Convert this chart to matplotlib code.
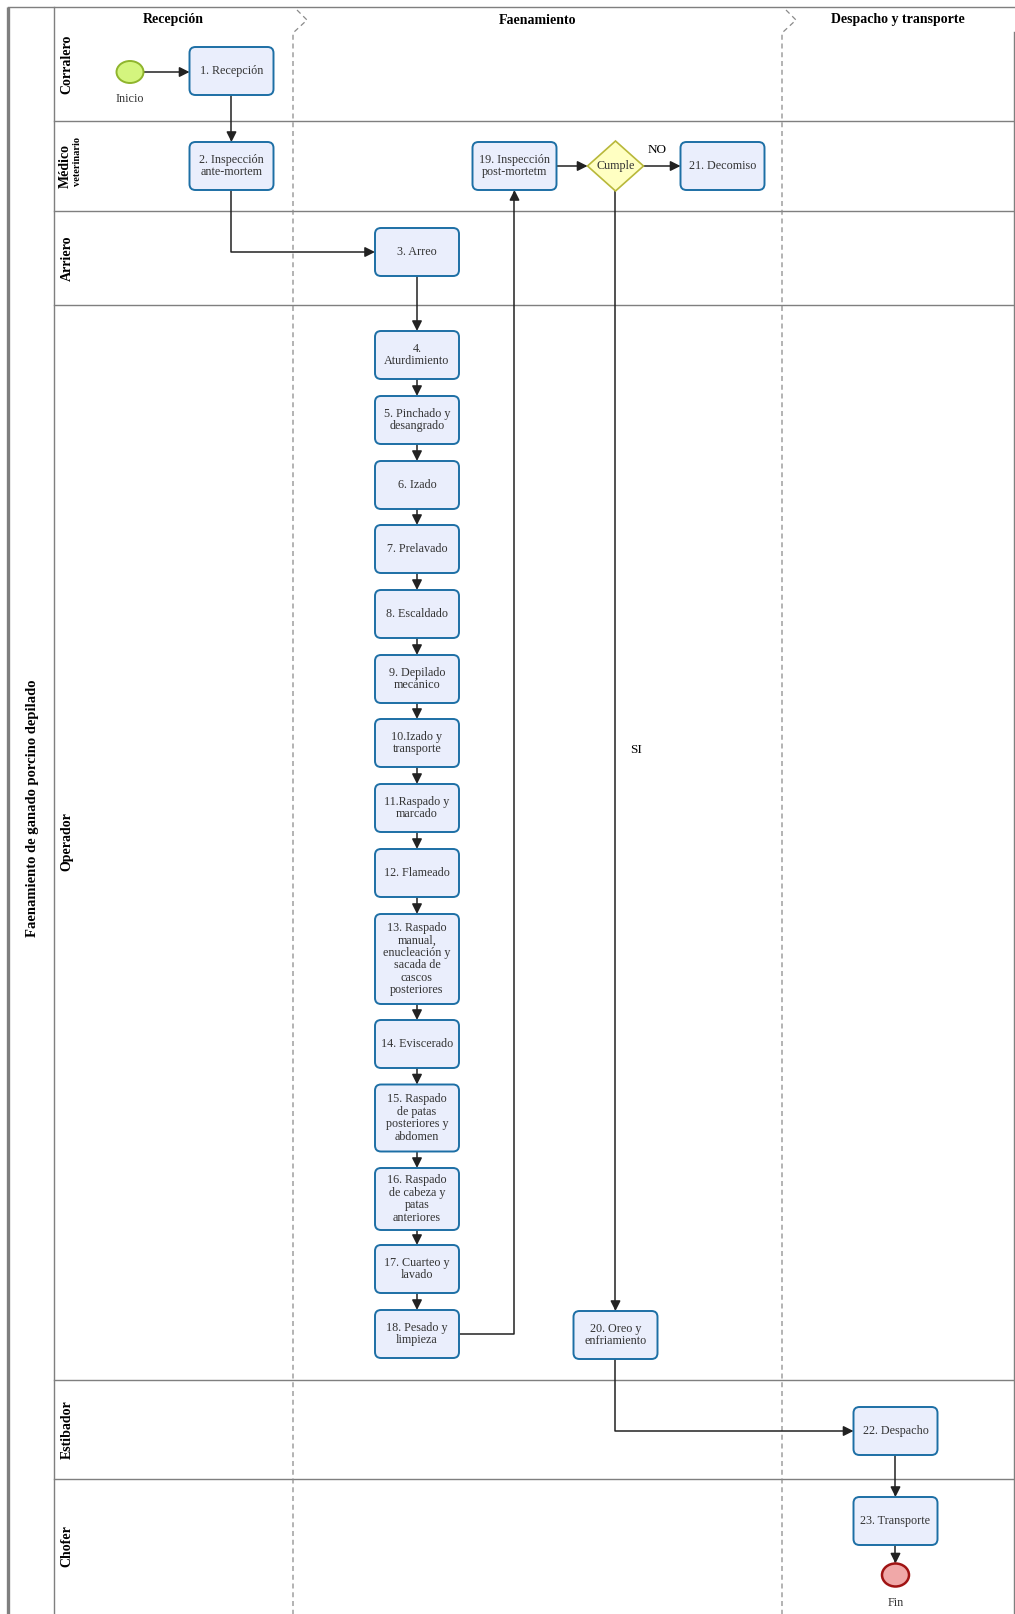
import matplotlib
matplotlib.use("Agg")
from matplotlib import pyplot as plt
from matplotlib.patches import FancyBboxPatch, Ellipse, Polygon, FancyArrowPatch
from matplotlib.path import Path

plt.rcParams['font.family'] = ['Liberation Serif', 'DejaVu Serif']

# --- data ---
pool_title = "Faenamiento de ganado porcino depilado"
phases = ["Recepción", "Faenamiento", "Despacho y transporte"]
lanes = ["Corralero", "Médico", "Arriero", "Operador", "Estibador", "Chofer"]

step_labels = [
    "1. Recepción", "2. Inspección\nante-mortem", "3. Arreo", "4.\nAturdimiento",
    "5. Pinchado y\ndesangrado", "6. Izado", "7. Prelavado", "8. Escaldado",
    "9. Depilado\nmecánico", "10.Izado y\ntransporte", "11.Raspado y\nmarcado",
    "12. Flameado",
    "13. Raspado\nmanual,\nenucleación y\nsacada de\ncascos\nposteriores",
    "14. Eviscerado", "15. Raspado\nde patas\nposteriores y\nabdomen",
    "16. Raspado\nde cabeza y\npatas\nanteriores", "17. Cuarteo y\nlavado",
    "18. Pesado y\nlimpieza", "19. Inspección\npost-mortetm",
    "20. Oreo y\nenfriamiento", "21. Decomiso", "22. Despacho", "23. Transporte",
]
gateway_label = "Cumple"
start_label, end_label = "Inicio", "Fin"
yes_label, no_label = "SI", "NO"

# --- layout (pixels, y down) ---
W, H = 1015, 1614
lane_y = [7, 121, 211, 305, 1380, 1479, 1614]
phase_x = [54, 293, 782, 1014]
BW, BH = 84, 48
col_a, col_b, col_c, col_d, col_e, col_f = 231.5, 417, 514.5, 615.5, 722.5, 895.5

pos = {
    1: (col_a, 71), 2: (col_a, 166), 3: (col_b, 252),
    4: (col_b, 355), 5: (col_b, 420), 6: (col_b, 485), 7: (col_b, 549),
    8: (col_b, 614), 9: (col_b, 679), 10: (col_b, 743), 11: (col_b, 808),
    12: (col_b, 873), 13: (col_b, 959), 14: (col_b, 1044), 15: (col_b, 1118),
    16: (col_b, 1199), 17: (col_b, 1269), 18: (col_b, 1334),
    19: (col_c, 166), 20: (col_d, 1335), 21: (col_e, 166),
    22: (col_f, 1431), 23: (col_f, 1521),
}
heights = {13: 90, 15: 67, 16: 62}

fig = plt.figure(figsize=(W / 100, H / 100), dpi=100)
ax = fig.add_axes([0, 0, 1, 1])
ax.set_xlim(0, W)
ax.set_ylim(H, 0)
ax.axis("off")

line_c = "#7f7f7f"
# pool frame
ax.plot([8, 8], [7, H], color=line_c, lw=2.4, solid_capstyle="butt")
ax.plot([8, W], [7, 7], color=line_c, lw=1.0)
ax.plot([54, 54], [7, H], color=line_c, lw=1.0)
ax.plot([1014, 1014], [32, H], color=line_c, lw=1.0)
for y in lane_y[1:-1]:
    ax.plot([54, 1014], [y, y], color=line_c, lw=1.0)

# phase separators with chevron at top
for x in phase_x[1:3]:
    ax.plot([x + 4, x + 14, x, x], [10, 20, 33, H], color="#8a8a8a",
            lw=0.9, ls=(0, (4, 3)))
for i, name in enumerate(phases):
    ax.text((phase_x[i] + phase_x[i + 1]) / 2, 20, name,
            ha="center", va="center", fontsize=10, fontweight="bold")

ax.text(33, 808, pool_title, rotation=90, ha="center", va="center",
        fontsize=10.5, fontweight="bold")

# lane labels
for i, name in enumerate(lanes):
    cy = (lane_y[i] + lane_y[i + 1]) / 2
    if i == 3:
        cy = 842
    if name == "Médico":
        ax.text(65, 166, name, rotation=90, ha="center", va="center",
                fontsize=10, fontweight="bold")
        ax.text(78, 162, "veterinario", rotation=90, ha="center", va="center",
                fontsize=7.5, fontweight="bold")
    else:
        ax.text(67, cy, name, rotation=90, ha="center", va="center",
                fontsize=10, fontweight="bold")

# tasks
for n, label in enumerate(step_labels, start=1):
    cx, cy = pos[n]
    h = heights.get(n, BH)
    ax.add_patch(FancyBboxPatch((cx - BW / 2, cy - h / 2), BW, h,
                                boxstyle="round,pad=0,rounding_size=6",
                                fc="#eaeefc", ec="#1d6fa5", lw=1.4, zorder=3))
    ax.text(cx, cy, label, ha="center", va="center", fontsize=8.7,
            color="#333333", linespacing=1.05, zorder=4)

# gateway
gx, gy = col_d, 166
ax.add_patch(Polygon([[gx - 28, gy], [gx, gy - 25], [gx + 28, gy], [gx, gy + 25]],
                     closed=True, fc="#ffffc2", ec="#b8b83a", lw=1.2, zorder=3))
ax.text(gx, gy, gateway_label, ha="center", va="center", fontsize=8.7,
        color="#333333", zorder=4)

# events
sx, sy = 130, 72
ax.add_patch(Ellipse((sx, sy), 27, 22, fc="#d4f57e", ec="#8fb52d", lw=1.4, zorder=3))
ax.text(sx, 99, start_label, ha="center", va="center", fontsize=8.7, color="#333333")
ex, ey = col_f, 1575
ax.add_patch(Ellipse((ex, ey), 27, 23, fc="#f0a8a8", ec="#a01414", lw=1.8, zorder=3))
ax.text(ex, 1603, end_label, ha="center", va="center", fontsize=8.7, color="#333333")


def flow(pts):
    arr = FancyArrowPatch(path=Path(pts), arrowstyle="-|>,head_length=0.6,head_width=0.3",
                          mutation_scale=10, color="#222222", lw=1.1,
                          shrinkA=0, shrinkB=0, zorder=2)
    ax.add_patch(arr)


def top(n):
    return pos[n][1] - heights.get(n, BH) / 2


def bot(n):
    return pos[n][1] + heights.get(n, BH) / 2


flow([(sx + 13.5, sy), (col_a - BW / 2, sy)])
flow([(col_a, bot(1)), (col_a, top(2))])
flow([(col_a, bot(2)), (col_a, 252), (col_b - BW / 2, 252)])
for n in range(3, 18):
    flow([(col_b, bot(n)), (col_b, top(n + 1))])
flow([(col_b + BW / 2, 1334), (col_c, 1334), (col_c, bot(19))])
flow([(col_c + BW / 2, 166), (gx - 28, 166)])
flow([(gx + 28, 166), (col_e - BW / 2, 166)])
flow([(gx, gy + 25), (gx, top(20))])
flow([(col_d, bot(20)), (col_d, 1431), (col_f - BW / 2, 1431)])
flow([(col_f, bot(22)), (col_f, top(23))])
flow([(col_f, bot(23)), (col_f, ey - 11.5)])

ax.text(657, 150, no_label, ha="center", va="center", fontsize=9.5)
ax.text(636, 750, yes_label, ha="center", va="center", fontsize=9.5)

fig.savefig("out.png", dpi=100)
